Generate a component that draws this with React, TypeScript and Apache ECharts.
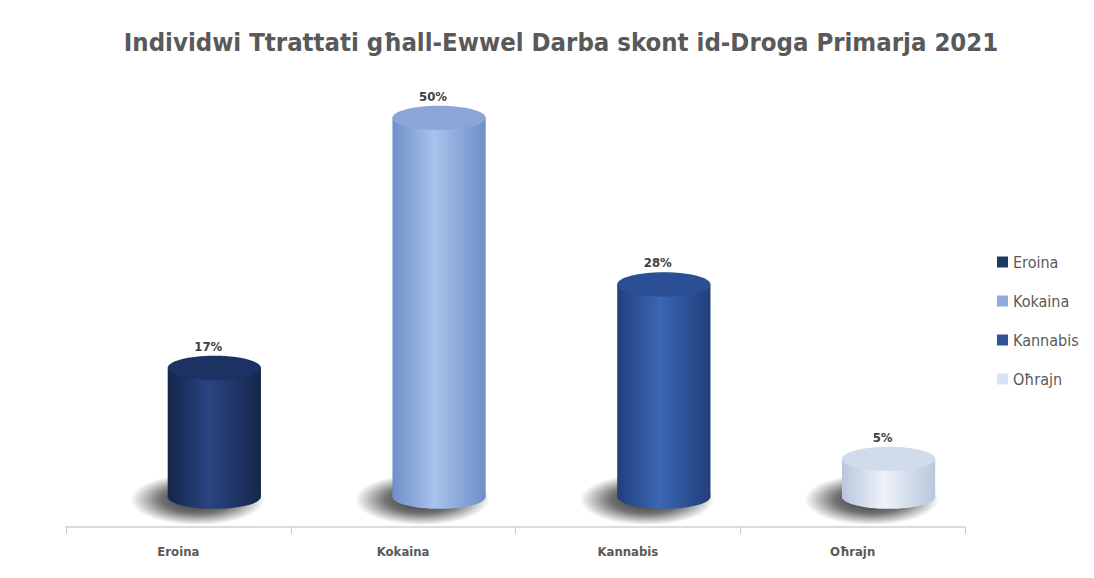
import React, { useEffect, useRef } from "react";
import * as echarts from "echarts";

const categories = ["Eroina", "Kokaina", "Kannabis", "Oħrajn"];
const values = [17, 50, 28, 5];
const sideColors = [
  ["#15264a", "#2a4482", "#15264a"],
  ["#6f8fc8", "#a9c2ec", "#6f8fc8"],
  ["#213f7a", "#3a66b4", "#213f7a"],
  ["#b9c6dc", "#eef2fa", "#b9c6dc"],
];
const topColors = ["#1c3262", "#8ba5d6", "#2b4f95", "#d0dbec"];
const legendColors = ["#1f3864", "#8faadc", "#2f5597", "#dae3f3"];

const FONT = "'DejaVu Sans Condensed', 'Open Sans', sans-serif";

export default function App() {
  const ref = useRef<HTMLDivElement>(null);
  useEffect(() => {
    if (!ref.current) return;
    const chart = echarts.init(ref.current, undefined, { renderer: "svg" });
    const series = categories.map((name, i) => ({
      type: "custom",
      name,
      color: legendColors[i],
      data: [[i, values[i]]],
      renderItem: (params: any, api: any) => {
        const idx = api.value(0);
        const v = api.value(1);
        const top = api.coord([idx, v]);
        const base = api.coord([idx, 0]);
        const bw = api.size([1, 0])[0];
        const cx = top[0] + bw * 0.16;
        const w = bw * 0.415;
        const rx = w / 2;
        const ry = w * 0.13;
        const sc = sideColors[i];
        const grad = new echarts.graphic.LinearGradient(0, 0, 1, 0, [
          { offset: 0, color: sc[0] },
          { offset: 0.45, color: sc[1] },
          { offset: 1, color: sc[2] },
        ]);
        const shadow = new echarts.graphic.RadialGradient(0.5, 0.5, 0.5, [
          { offset: 0, color: "rgba(0,0,0,0.85)" },
          { offset: 0.55, color: "rgba(0,0,0,0.55)" },
          { offset: 1, color: "rgba(0,0,0,0)" },
        ]);
        return {
          type: "group",
          children: [
            {
              type: "ellipse",
              shape: { cx: cx - w * 0.18, cy: base[1] + 3, rx: w * 0.72, ry: ry * 2.1 },
              style: { fill: shadow },
            },
            {
              type: "rect",
              shape: { x: cx - rx, y: top[1], width: w, height: base[1] - top[1] },
              style: { fill: grad },
            },
            {
              type: "ellipse",
              shape: { cx, cy: base[1], rx, ry },
              style: { fill: grad },
            },
            {
              type: "ellipse",
              shape: { cx, cy: top[1], rx, ry },
              style: { fill: topColors[i] },
            },
            {
              type: "text",
              style: {
                x: cx - 6,
                y: top[1] - ry - 3,
                text: values[i] + "%",
                fill: "#404040",
                font: `bold 13px ${FONT}`,
                textAlign: "center",
                textVerticalAlign: "bottom",
              },
            },
          ],
        };
      },
    }));
    chart.setOption({
      animation: false,
      title: {
        text: "Individwi Ttrattati għall-Ewwel Darba skont id-Droga Primarja 2021",
        left: 556,
        textAlign: "center",
        top: 24,
        textStyle: { fontFamily: FONT, fontWeight: "bold", fontSize: 25.5, color: "#595959" },
      },
      legend: {
        orient: "vertical",
        left: 992,
        top: 249,
        icon: "rect",
        itemWidth: 11,
        itemHeight: 11,
        itemGap: 23,
        data: categories,
        textStyle: { fontFamily: FONT, fontSize: 16, color: "#595959" },
      },
      grid: { left: 66, right: 129, top: 42, bottom: 51 },
      xAxis: {
        type: "category",
        data: categories,
        axisLine: { onZero: false, lineStyle: { color: "#d0d0d0", width: 1.5 } },
        axisTick: { show: true, length: 7, lineStyle: { color: "#c8c8c8", width: 1 } },
        axisLabel: { fontFamily: FONT, fontWeight: "bold", fontSize: 13, color: "#595959", margin: 18 },
      },
      yAxis: { type: "value", min: -4, max: 60, show: false, splitLine: { show: false } },
      series,
    });
    return () => chart.dispose();
  }, []);
  return <div ref={ref} style={{ width: 1094, height: 578, position: "absolute", left: 0, top: 0, background: "#fff" }} />;
}
